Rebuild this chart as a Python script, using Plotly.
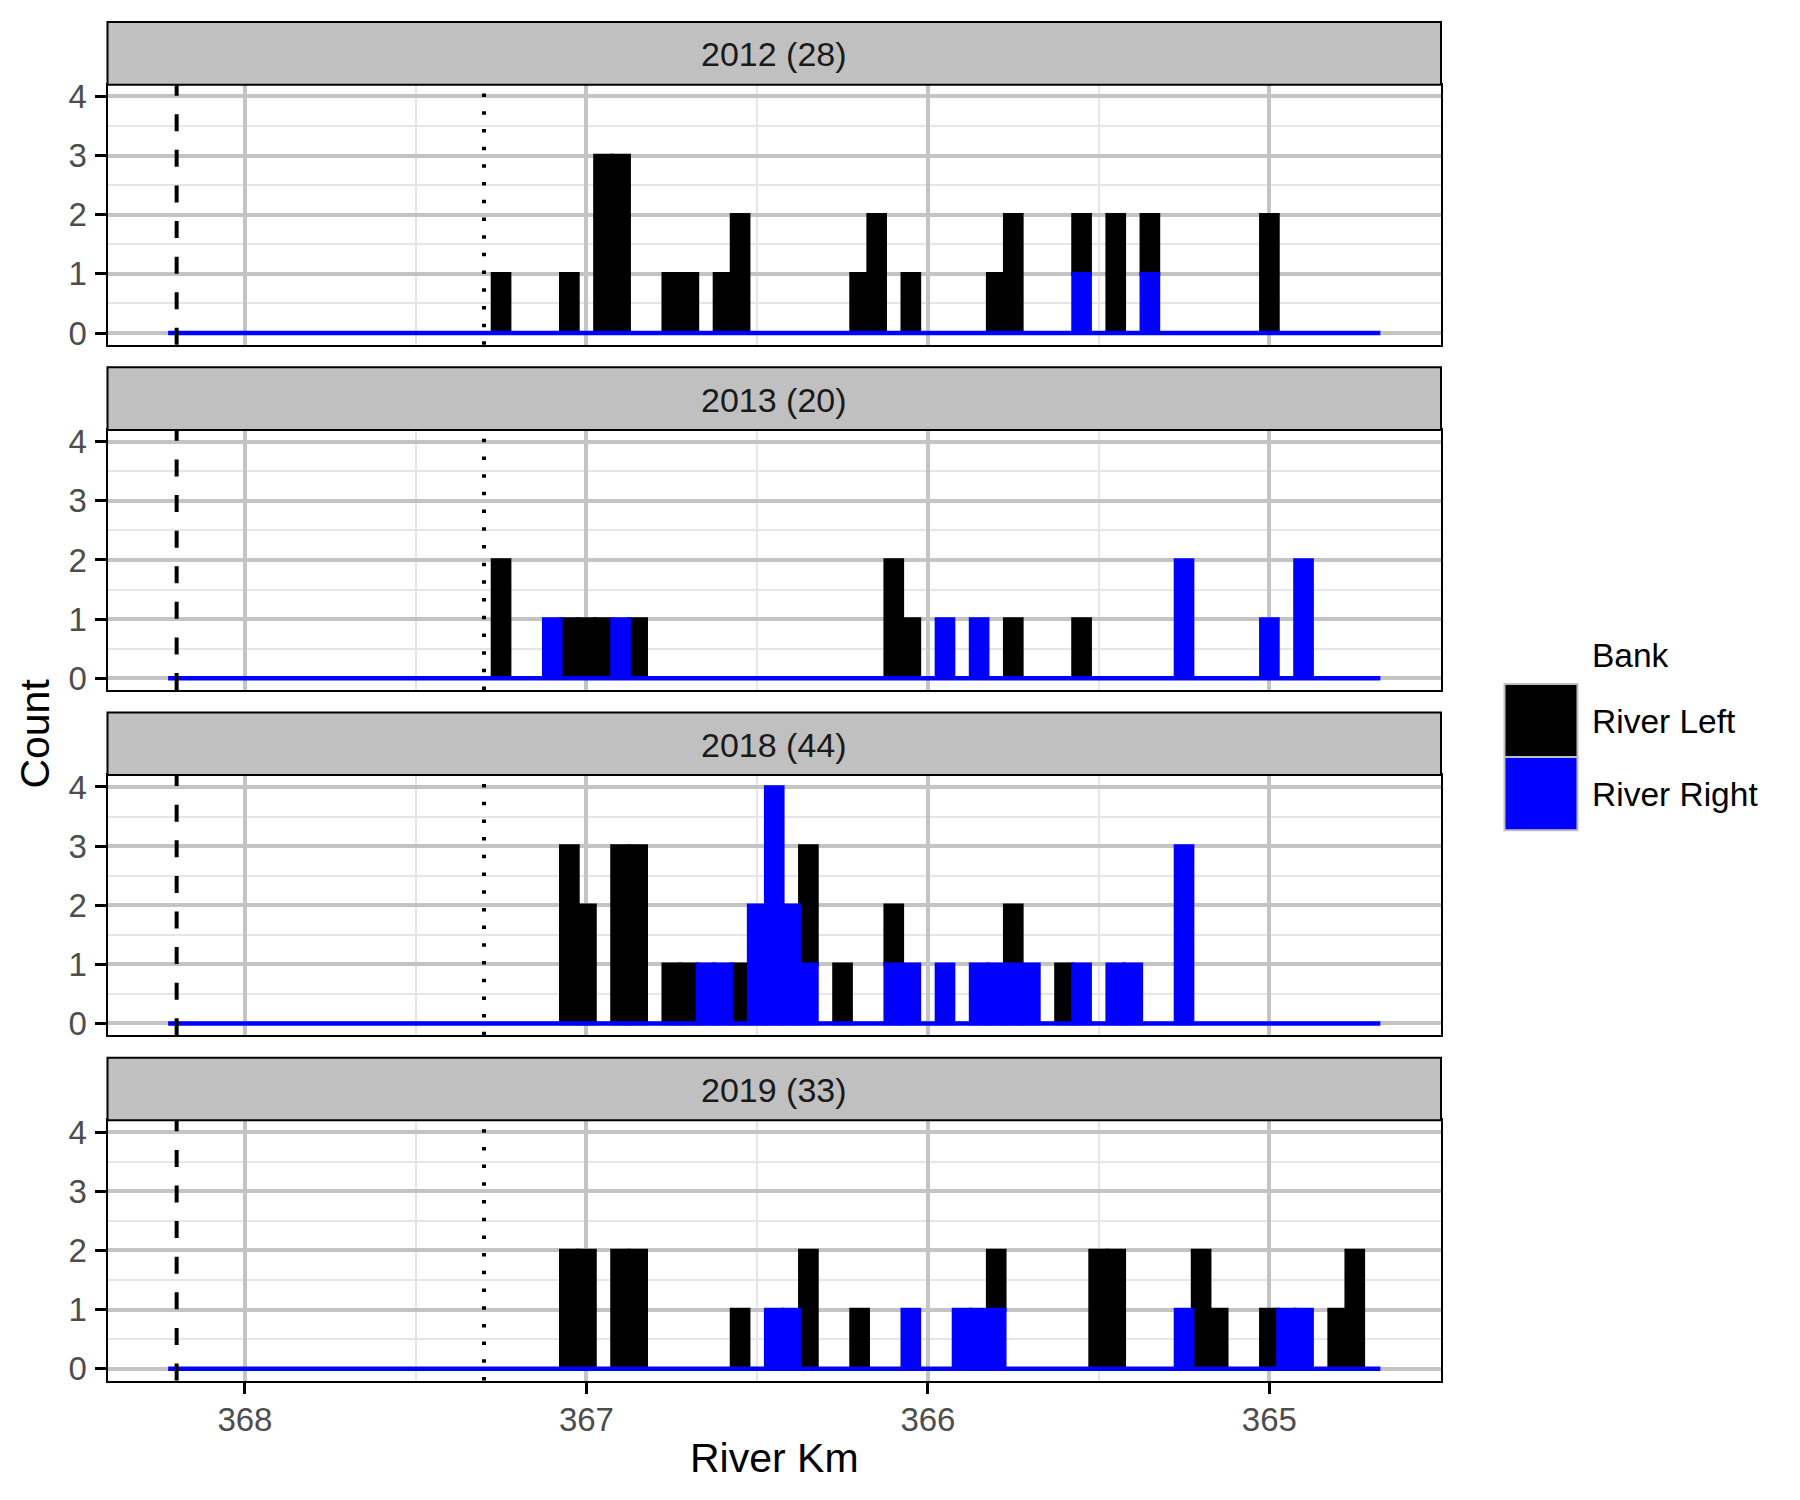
import plotly.graph_objects as go

# ---------------- data ----------------
PANEL_LABELS = ["2012 (28)", "2013 (20)", "2018 (44)", "2019 (33)"]

KM_2012 = [367.25, 367.05, 366.95, 366.90, 366.75, 366.70, 366.60, 366.55, 366.20,
           366.15, 366.05, 365.80, 365.75, 365.55, 365.45, 365.35, 365.00]
LEFT_2012 = [1, 1, 3, 3, 1, 1, 1, 2, 1, 2, 1, 1, 2, 1, 2, 1, 2]
RIGHT_2012 = [0, 0, 0, 0, 0, 0, 0, 0, 0, 0, 0, 0, 0, 1, 0, 1, 0]

KM_2013 = [367.25, 367.10, 367.05, 367.00, 366.95, 366.90, 366.85, 366.10, 366.05,
           365.95, 365.85, 365.75, 365.55, 365.25, 365.00, 364.90]
LEFT_2013 = [2, 0, 1, 1, 1, 0, 1, 2, 1, 0, 0, 1, 1, 0, 0, 0]
RIGHT_2013 = [0, 1, 0, 0, 0, 1, 0, 0, 0, 1, 1, 0, 0, 2, 1, 2]

KM_2018 = [367.05, 367.00, 366.90, 366.85, 366.75, 366.70, 366.65, 366.60, 366.55,
           366.50, 366.45, 366.40, 366.35, 366.25, 366.10, 366.05, 365.95, 365.85,
           365.80, 365.75, 365.70, 365.60, 365.55, 365.45, 365.40, 365.25]
LEFT_2018 = [3, 2, 3, 3, 1, 1, 0, 0, 1, 0, 0, 0, 2, 1, 1, 0, 0, 0, 0, 1, 0, 1, 0, 0, 0, 0]
RIGHT_2018 = [0, 0, 0, 0, 0, 0, 1, 1, 0, 2, 4, 2, 1, 0, 1, 1, 1, 1, 1, 1, 1, 0, 1, 1, 1, 3]

KM_2019 = [367.05, 367.00, 366.90, 366.85, 366.55, 366.45, 366.40, 366.35, 366.20,
           366.05, 365.90, 365.85, 365.80, 365.50, 365.45, 365.25, 365.20, 365.15,
           365.00, 364.95, 364.90, 364.80, 364.75]
LEFT_2019 = [2, 2, 2, 2, 1, 0, 0, 2, 1, 0, 0, 0, 1, 2, 2, 0, 2, 1, 1, 0, 0, 1, 2]
RIGHT_2019 = [0, 0, 0, 0, 0, 1, 1, 0, 0, 1, 1, 1, 1, 0, 0, 1, 0, 0, 0, 1, 1, 0, 0]

PANELS = [
    (KM_2012, LEFT_2012, RIGHT_2012),
    (KM_2013, LEFT_2013, RIGHT_2013),
    (KM_2018, LEFT_2018, RIGHT_2018),
    (KM_2019, LEFT_2019, RIGHT_2019),
]

BIN_FIRST = 368.2      # first bin centre
BIN_LAST = 364.7       # last bin centre
BINWIDTH = 0.05
DASHED_KM = 368.2
DOTTED_KM = 367.3
X_TICKS = [368, 367, 366, 365]
Y_TICKS = [0, 1, 2, 3, 4]
BANKS = ["River Left", "River Right"]
BANK_COLORS = {"River Left": "#000000", "River Right": "#0000FF"}

# ---------------- layout geometry (pixels) ----------------
W, H = 1800, 1500
PANEL_LEFT, PANEL_RIGHT = 107.5, 1441.0
PANEL_TOPS = [84.5, 429.5, 774.5, 1119.5]
PANEL_H = 260.0
STRIP_H = 62.5
FONT = "Liberation Sans, Arial, Helvetica, sans-serif"
TICK_SIZE = 33
STRIP_SIZE = 34
LEGEND_SIZE = 33.5
TITLE_SIZE = 41
# vertical calibration of the rendered page
Y_SCALE, Y_OFF = 0.990, 6.9

def fx(x):
    return x / W

def fy(y):
    return 1 - ((y - Y_OFF) / Y_SCALE) / H

hist_lo = BIN_LAST - BINWIDTH / 2
hist_hi = BIN_FIRST + BINWIDTH / 2
span = hist_hi - hist_lo
x_range = [hist_hi + 0.05 * span, hist_lo - 0.05 * span]
y_range = [-0.2, 4.2]

fig = go.Figure()
layout = dict(
    width=W, height=H, margin=dict(l=0, r=0, t=0, b=0),
    paper_bgcolor="white", plot_bgcolor="white",
    barmode="overlay", showlegend=False,
    font=dict(family=FONT),
)
shapes = []
annotations = []

BAR_LINE = 3.6
for i, (km, left, right) in enumerate(PANELS):
    n = i + 1
    xa = "x" if n == 1 else f"x{n}"
    ya = "y" if n == 1 else f"y{n}"
    top = PANEL_TOPS[i]
    bottom = top + PANEL_H
    bottom_panel = (i == len(PANELS) - 1)

    # River Left (stacked on top of River Right), drawn first
    lx = [k for k, l in zip(km, left) if l > 0]
    ly = [l for l in left if l > 0]
    lb = [r for l, r in zip(left, right) if l > 0]
    fig.add_trace(go.Bar(
        x=lx, y=ly, base=lb, width=BINWIDTH, name="River Left",
        marker=dict(color=BANK_COLORS["River Left"],
                    line=dict(color=BANK_COLORS["River Left"], width=BAR_LINE)),
        opacity=1, xaxis=xa, yaxis=ya, showlegend=False))
    # River Right (bottom of stack)
    rx = [k for k, r in zip(km, right) if r > 0]
    ry = [r for r in right if r > 0]
    fig.add_trace(go.Bar(
        x=rx, y=ry, base=[0] * len(ry), width=BINWIDTH, name="River Right",
        marker=dict(color=BANK_COLORS["River Right"],
                    line=dict(color=BANK_COLORS["River Right"], width=BAR_LINE)),
        opacity=1, xaxis=xa, yaxis=ya, showlegend=False))
    # zero-count bins outline (baseline)
    fig.add_trace(go.Scatter(
        x=[hist_hi, hist_lo], y=[0, 0], mode="lines",
        line=dict(color=BANK_COLORS["River Right"], width=4.5),
        xaxis=xa, yaxis=ya, showlegend=False, hoverinfo="skip"))

    xkey = "xaxis" if n == 1 else f"xaxis{n}"
    ykey = "yaxis" if n == 1 else f"yaxis{n}"
    layout[xkey] = dict(
        domain=[fx(PANEL_LEFT), fx(PANEL_RIGHT)], anchor=ya,
        range=x_range, tickmode="array", tickvals=X_TICKS,
        ticktext=[str(t) for t in X_TICKS],
        showticklabels=bottom_panel,
        ticks="outside" if bottom_panel else "", ticklen=11, tickwidth=3, tickcolor="black",
        ticklabelstandoff=-2,
        tickfont=dict(family=FONT, size=TICK_SIZE, color="#4D4D4D"),
        showgrid=True, gridcolor="#C4C4C4", gridwidth=3.5,
        minor=dict(tickmode="array", tickvals=[367.5, 366.5, 365.5],
                   showgrid=True, gridcolor="#E6E6E6", gridwidth=2, ticks=""),
        zeroline=False, showline=True, mirror=True, linecolor="black", linewidth=2,
    )
    layout[ykey] = dict(
        domain=[fy(bottom), fy(top)], anchor=xa,
        range=y_range, tickmode="array", tickvals=Y_TICKS,
        ticks="outside", ticklen=11, tickwidth=3, tickcolor="black",
        ticklabelstandoff=1,
        tickfont=dict(family=FONT, size=TICK_SIZE, color="#4D4D4D"),
        showgrid=True, gridcolor="#C4C4C4", gridwidth=3.5,
        minor=dict(tickmode="array", tickvals=[0.5, 1.5, 2.5, 3.5],
                   showgrid=True, gridcolor="#E6E6E6", gridwidth=2, ticks=""),
        zeroline=False, showline=True, mirror=True, linecolor="black", linewidth=2,
    )

    # reference lines
    shapes.append(dict(type="line", xref=xa, yref=f"{ya} domain",
                       x0=DASHED_KM, x1=DASHED_KM, y0=0, y1=1,
                       line=dict(color="black", width=4, dash="17px,18.6px")))
    shapes.append(dict(type="line", xref=xa, yref=f"{ya} domain",
                       x0=DOTTED_KM, x1=DOTTED_KM, y0=0, y1=1,
                       line=dict(color="black", width=4, dash="3.5px,14.2px")))

    # facet strip
    shapes.append(dict(type="rect", xref="paper", yref="paper",
                       x0=fx(PANEL_LEFT), x1=fx(PANEL_RIGHT),
                       y0=fy(top), y1=fy(top - STRIP_H),
                       fillcolor="#C0C0C0", line=dict(color="black", width=2),
                       layer="above"))
    annotations.append(dict(xref="paper", yref="paper",
                            x=fx((PANEL_LEFT + PANEL_RIGHT) / 2), y=fy(top - STRIP_H / 2 + 1),
                            text=PANEL_LABELS[i], showarrow=False,
                            xanchor="center", yanchor="middle",
                            font=dict(family=FONT, size=STRIP_SIZE, color="#1A1A1A")))

# axis titles
annotations.append(dict(xref="paper", yref="paper", x=fx(774), y=fy(1457),
                        text="River Km", showarrow=False, xanchor="center", yanchor="middle",
                        font=dict(family=FONT, size=TITLE_SIZE, color="black")))
annotations.append(dict(xref="paper", yref="paper", x=fx(35), y=fy(733),
                        text="Count", showarrow=False, textangle=-90,
                        xanchor="center", yanchor="middle",
                        font=dict(family=FONT, size=TITLE_SIZE, color="black")))

# legend (manual, ggplot style)
KEY_X0, KEY_X1 = 1504.5, 1577.5
KEY_TOP, KEY_H = 683.5, 73
TEXT_X = 1590
annotations.append(dict(xref="paper", yref="paper", x=fx(TEXT_X), y=fy(655),
                        text="Bank", showarrow=False, xanchor="left", yanchor="middle",
                        font=dict(family=FONT, size=LEGEND_SIZE, color="black")))
for j, bank in enumerate(BANKS):
    y0 = KEY_TOP + j * KEY_H
    shapes.append(dict(type="rect", xref="paper", yref="paper",
                       x0=fx(KEY_X0), x1=fx(KEY_X1), y0=fy(y0 + KEY_H), y1=fy(y0),
                       fillcolor=BANK_COLORS[bank], line=dict(color="#BEBEBE", width=2)))
    annotations.append(dict(xref="paper", yref="paper", x=fx(TEXT_X), y=fy(y0 + KEY_H / 2 + 1),
                            text=bank, showarrow=False, xanchor="left", yanchor="middle",
                            font=dict(family=FONT, size=LEGEND_SIZE, color="black")))

layout["shapes"] = shapes
layout["annotations"] = annotations
fig.update_layout(**layout)
fig.write_html("out.html")
